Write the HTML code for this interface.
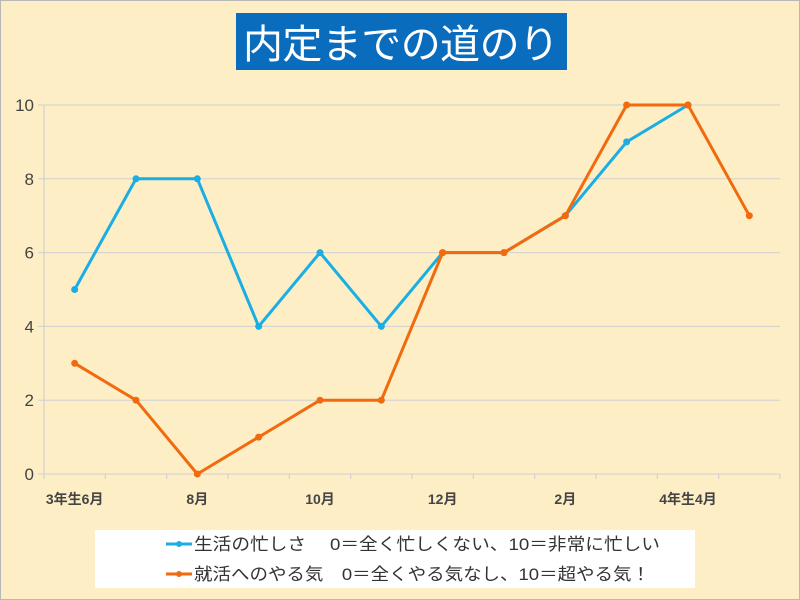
<!DOCTYPE html>
<html><head><meta charset="utf-8"><style>
body{margin:0;width:800px;height:600px;overflow:hidden;background:#fdeec6;font-family:"Liberation Sans","Noto Sans CJK JP",sans-serif}
svg{display:block}
</style></head><body>
<svg id="chart" width="800" height="600">
<rect x="0.5" y="0.5" width="799" height="599" fill="#fdeec6" stroke="#b8b8b8"/>
<rect x="236" y="13" width="331" height="57" fill="#0a6cbd"/>
<text x="401" y="58" text-anchor="middle" font-size="40" fill="#fff" textLength="316">内定までの道のり</text>
<g id="grid"></g><g id="axes"></g><g id="series"></g>
<rect x="95" y="530" width="600" height="58" fill="#fff"/>
<g>
<line x1="166" y1="544" x2="192" y2="544" stroke="#1aaee5" stroke-width="3"/><circle cx="179" cy="544" r="3" fill="#1aaee5"/>
<text x="194" y="550" font-size="17" fill="#333" textLength="466" lengthAdjust="spacingAndGlyphs">生活の忙しさ　 0＝全く忙しくない、10＝非常に忙しい</text></g>
<g>
<line x1="166" y1="574" x2="192" y2="574" stroke="#f26a0e" stroke-width="3"/><circle cx="179" cy="574" r="3" fill="#f26a0e"/>
<text x="194" y="580" font-size="17" fill="#333" textLength="456" lengthAdjust="spacingAndGlyphs">就活へのやる気　0＝全くやる気なし、10＝超やる気！</text></g>
</svg>
<script>
const categories=["3年生6月","7月","8月","9月","10月","11月","12月","1月","2月","3月","4年生4月","5月"];
const busyValues=[5,8,8,4,6,4,6,6,7,9,10,null];
const motivationValues=[3,2,0,1,2,2,6,6,7,10,10,7];
const yTicks=[0,2,4,6,8,10];
const NS="http://www.w3.org/2000/svg";
const L=44,R=780,T=105,B=474;
const bw=(R-L)/categories.length;
const xs=i=>L+bw*(i+0.5);
const ys=v=>B-(v/10)*(B-T);
function mk(tag,attrs,parent){const e=document.createElementNS(NS,tag);for(const k in attrs)e.setAttribute(k,attrs[k]);parent.appendChild(e);return e;}
const grid=document.getElementById('grid'),axes=document.getElementById('axes'),ser=document.getElementById('series');
yTicks.forEach(v=>{
 const g=mk('line',{x1:L-6,x2:R,y1:ys(v),y2:ys(v),stroke:'#d0d0d0','stroke-width':1},grid);
 
 
 const t=mk('text',{x:34,y:ys(v)+6,'text-anchor':'end','font-size':17,fill:'#444'},axes);
 t.textContent=v;
 
 
});
mk('line',{x1:L,x2:L,y1:T,y2:B,stroke:'#ccc'},axes);
for(let i=0;i<=categories.length;i++){mk('line',{x1:L+bw*i,x2:L+bw*i,y1:B,y2:B+5,stroke:'#ccc'},axes);}
categories.forEach((c,i)=>{
 if(i%2)return;
 const t=mk('text',{x:xs(i),y:B+30,'text-anchor':'middle','font-size':14,'font-weight':'bold',fill:'#444'},axes);
 t.textContent=c;
 
 
});
function draw(vals,color,name){
 const pts=[];vals.forEach((v,i)=>{if(v!==null)pts.push([xs(i),ys(v)]);});
 const p=mk('polyline',{points:pts.map(p=>p.join(',')).join(' '),fill:'none',stroke:color,'stroke-width':3,'stroke-linejoin':'round'},ser);
 
 
 pts.forEach(q=>{
  const c=mk('circle',{cx:q[0],cy:q[1],r:3.5,fill:color},ser);
  
  
 });
}
draw(busyValues,'#1aaee5','busy');
draw(motivationValues,'#f26a0e','motivation');
</script>
</body></html>
